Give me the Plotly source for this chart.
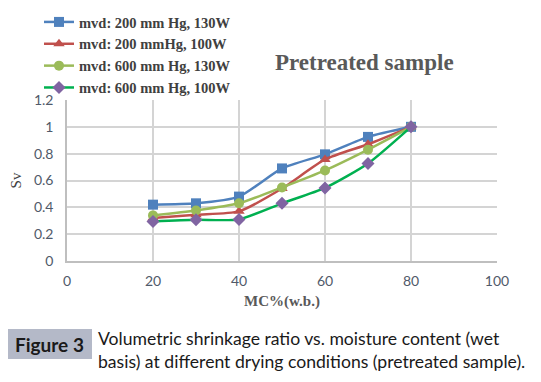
import plotly.graph_objects as go

mc = [20, 30, 40, 50, 60, 70, 80]
sv_200_130 = [0.42, 0.43, 0.48, 0.69, 0.795, 0.925, 1.0]
sv_200_100 = [0.32, 0.345, 0.37, 0.54, 0.757, 0.87, 1.0]
sv_600_130 = [0.34, 0.377, 0.43, 0.548, 0.675, 0.83, 1.0]
sv_600_100 = [0.295, 0.307, 0.31, 0.43, 0.545, 0.727, 1.0]

names = ["mvd: 200 mm Hg, 130W", "mvd: 200 mmHg, 100W",
         "mvd: 600 mm Hg, 130W", "mvd: 600 mm Hg, 100W"]
series = [sv_200_130, sv_200_100, sv_600_130, sv_600_100]
line_colors = ["#4f81bd", "#c0504d", "#9bbb59", "#00b050"]
marker_colors = ["#4f81bd", "#c0504d", "#9bbb59", "#8064a2"]
symbols = ["square", "triangle-up", "circle", "diamond"]

fig = go.Figure()
for n, s, lc, mcol, sym in zip(names, series, line_colors, marker_colors, symbols):
    fig.add_trace(go.Scatter(
        x=mc, y=s, name=n, mode="lines+markers",
        line=dict(color=lc, width=2.5, shape="spline", smoothing=0.6),
        marker=dict(symbol=sym, size=10, color=mcol),
    ))

# page body has an 8px margin, so the figure is drawn 8px in from the window corner
OFF = 8
W, H = 541 - OFF, 382 - OFF
L, R, T, B = 67 - OFF, 44, 100 - OFF, 121
PW, PH = W - L - R, H - T - B


def px(x):
    return (x - OFF - L) / PW


def py(y):
    return (H - B - (y - OFF)) / PH


grid = "#d4d4d4"
tickfont = dict(family="Lato", size=14, color="#505a6a")

fig.update_layout(
    width=W, height=H,
    margin=dict(l=L, r=R, t=T, b=B, autoexpand=False),
    paper_bgcolor="white", plot_bgcolor="white",
    showlegend=True,
    legend=dict(x=px(39), y=py(6), xanchor="left", yanchor="top",
                font=dict(family="Liberation Serif", size=14.5, color="#404040", weight="bold"),
                bgcolor="rgba(0,0,0,0)", tracegroupgap=0, itemwidth=30),
    xaxis=dict(range=[0, 100], dtick=20, showgrid=True, gridcolor=grid, gridwidth=1.5,
               showline=True, linecolor="#bfbfbf", linewidth=1.5, zeroline=False,
               tickfont=tickfont, ticks="outside", ticklen=6, tickcolor="rgba(0,0,0,0)",
               title=dict(text="MC%(w.b.)", font=dict(family="Liberation Serif", size=15,
                                                       color="#595959", weight="bold"), standoff=8)),
    yaxis=dict(range=[0, 1.2], dtick=0.2, showgrid=True, gridcolor=grid, gridwidth=1.5,
               showline=True, linecolor="#bfbfbf", linewidth=1.5, zeroline=False,
               tickfont=tickfont, ticks="outside", ticklen=9, tickcolor="rgba(0,0,0,0)",
               tickformat="~g",
               title=dict(text="Sv", font=dict(family="Liberation Serif", size=15,
                                                color="#404040"), standoff=12)),
)

fig.add_annotation(text="<b>Pretreated sample</b>", xref="paper", yref="paper",
                   x=px(364), y=py(63), xanchor="center", yanchor="middle", showarrow=False,
                   font=dict(family="Liberation Serif", size=23, color="#595959"))

# caption
fig.add_shape(type="rect", xref="paper", yref="paper",
              x0=px(6), x1=px(92), y0=py(359), y1=py(329),
              fillcolor="#b4b9c8", line=dict(width=0), layer="above")
fig.add_annotation(text="<b>Figure 3</b>", xref="paper", yref="paper",
                   x=px(49), y=py(344), xanchor="center", yanchor="middle",
                   showarrow=False, font=dict(family="Lato", size=19, color="#1a1a1a"))

line1 = "Volumetric shrinkage ratio vs. moisture content (wet"
line2 = "basis) at different drying conditions (pretreated sample)."
fig.add_annotation(text=line1 + "<br>" + line2,
                   xref="paper", yref="paper", x=px(96), y=py(350),
                   xanchor="left", yanchor="middle", align="left", showarrow=False,
                   font=dict(family="Lato", size=17.6, color="#1a1a1a"))

fig.write_html("out.html")
